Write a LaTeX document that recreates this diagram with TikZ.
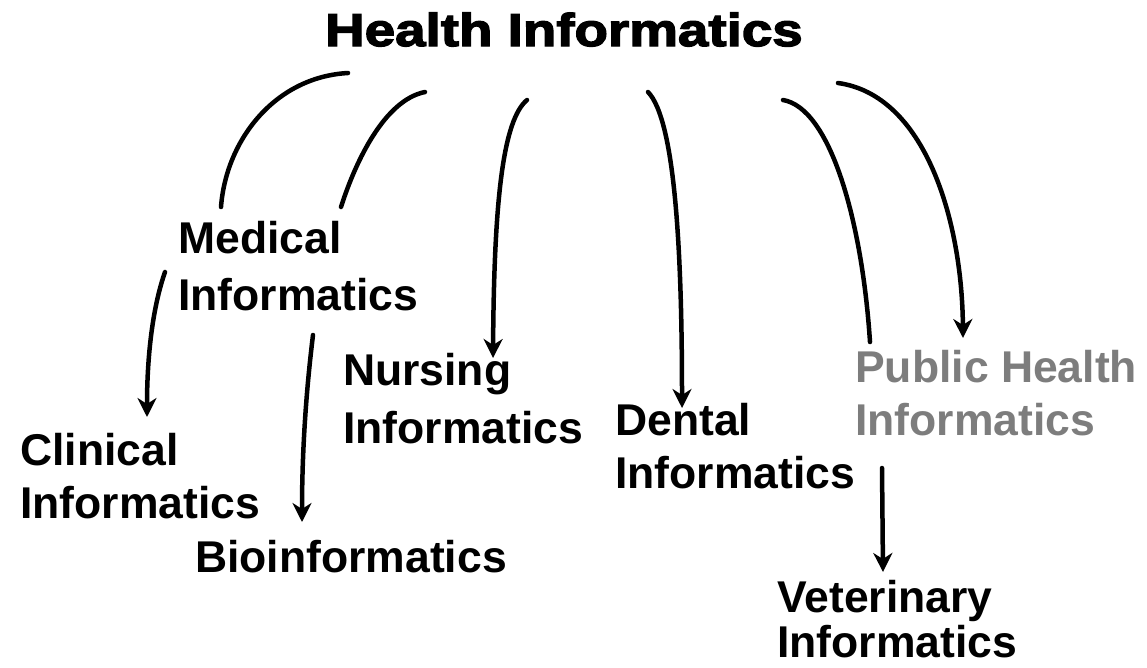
\documentclass[tikz,border=0pt]{standalone}
\usepackage{fontspec}
\setmainfont{Liberation Sans}
\newfontfamily\titlefont[FakeStretch=1.19,FakeBold=3]{Liberation Sans}
\usetikzlibrary{arrows.meta}
\definecolor{phgray}{RGB}{125,125,125}
\tikzset{
  lbl/.style={anchor=base west, inner sep=0pt, align=left,
    font=\fontsize{44.5}{53}\selectfont\bfseries},
  ttl/.style={anchor=base west, inner sep=0pt,
    font=\titlefont\fontsize{46}{50}\selectfont\bfseries},
  link/.style={line width=4.5pt, line cap=round},
  arr/.style={link, -{Stealth[length=19pt,width=19pt,inset=6pt]}}
}
\begin{document}
\begin{tikzpicture}[x=1pt,y=-1pt]
\useasboundingbox[fill=white] (0,0) rectangle (1147,667);
\node[ttl] (hi) at (325,46) {Health Informatics};
\node[lbl] (med) at (178,310) {Medical\\[4pt]Informatics};
\node[lbl] (cli) at (20,518) {Clinical\\Informatics};
\node[lbl] (bio) at (195,572) {Bioinformatics};
\node[lbl] (nur) at (343,443) {Nursing\\[5pt]Informatics};
\node[lbl] (den) at (615,488) {Dental\\Informatics};
\node[lbl, text=phgray] (pub) at (855,435) {Public Health\\Informatics};
\node[lbl] (vet) at (777,657) {Veterinary\\[-8pt]Informatics};
% connector ends
\coordinate (hi1) at (348,73);  \coordinate (med1) at (221,207);
\coordinate (hi2) at (425,92);  \coordinate (med2) at (341,207);
\coordinate (hi3) at (527,100); \coordinate (nur1) at (493,358);
\coordinate (hi4) at (648,92);  \coordinate (den1) at (682,408);
\coordinate (hi5) at (783,100); \coordinate (vet0) at (870,342);
\coordinate (hi6) at (838,83);  \coordinate (pub1) at (963,338);
\coordinate (med3) at (165,272); \coordinate (cli1) at (147,417);
\coordinate (med4) at (313,335); \coordinate (bio1) at (302,522);
\coordinate (den2) at (882,468); \coordinate (vet1) at (883,572);
\draw[link] (hi1) .. controls (275,77) and (226,140) .. (med1);
\draw[link] (hi2) .. controls (385,100) and (356,160) .. (med2);
\draw[arr] (hi3) .. controls (503,120) and (494,200) .. (nur1);
\draw[arr] (hi4) .. controls (675,120) and (682,250) .. (den1);
\draw[link] (hi5) .. controls (830,108) and (862,220) .. (vet0);
\draw[arr] (hi6) .. controls (925,95) and (962,220) .. (pub1);
\draw[arr] (med3) .. controls (150,315) and (147,370) .. (cli1);
\draw[arr] (med4) .. controls (305,400) and (302,460) .. (bio1);
\draw[arr] (den2) -- (vet1);
\end{tikzpicture}
\end{document}
